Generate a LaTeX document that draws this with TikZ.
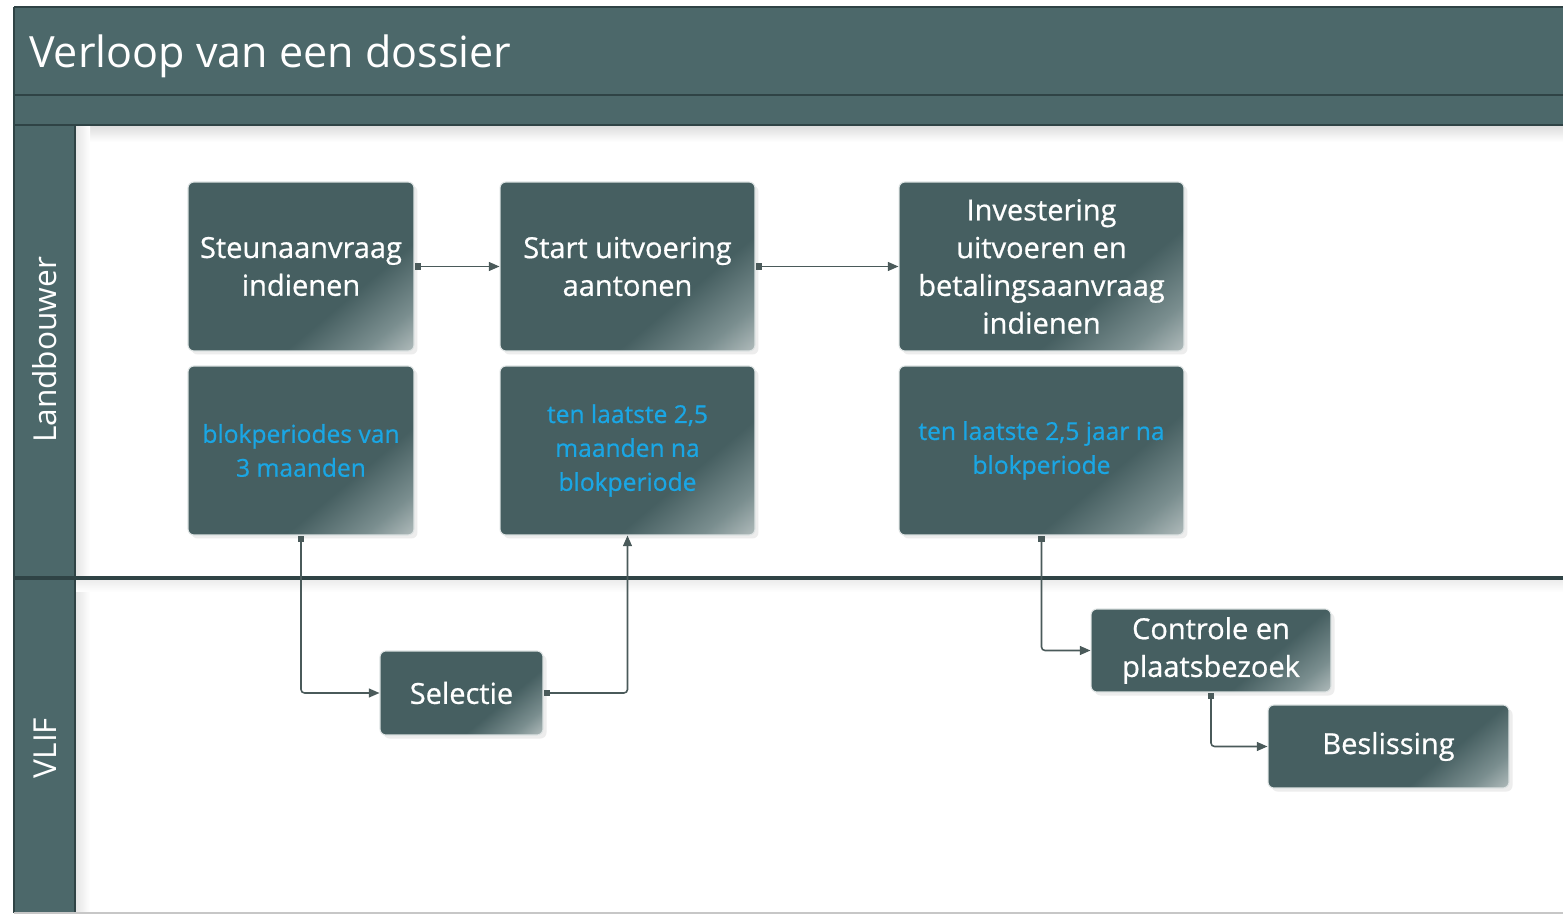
\documentclass[tikz,border=0pt]{standalone}
\usepackage{fontspec}
\setmainfont{Open Sans}
\newfontfamily\boxfont[FakeBold=0.7]{Open Sans}
\usetikzlibrary{arrows.meta,shadows}
\definecolor{teal1}{HTML}{4C686A}
\definecolor{darkln}{HTML}{2F4345}
\definecolor{boxD}{HTML}{465F61}
\definecolor{boxM}{HTML}{7A8E8F}
\definecolor{boxL}{HTML}{C2CACA}
\definecolor{blueT}{HTML}{1AA6E4}
\definecolor{connc}{HTML}{4A5A5A}
\definecolor{rim}{HTML}{DCE2E2}
\pgfdeclarehorizontalshading{boxgrad}{100bp}{color(0bp)=(boxD); color(64bp)=(boxD); color(77bp)=(boxM); color(88bp)=(boxL); color(100bp)=(boxL)}
\begin{document}
\begin{tikzpicture}[x=0.02cm,y=-0.02cm,
  task/.style={shade, shading=boxgrad, shading angle=-50, rounded corners=3.4pt,
    draw=rim, line width=0.6pt, text=white, align=center, inner sep=0pt,
    font=\boxfont\fontsize{16.5}{21.5}\selectfont,
    drop shadow={opacity=0.14, shadow xshift=2pt, shadow yshift=-2pt}},
  note/.style={task, text=blueT, font=\boxfont\fontsize{14}{19.3}\selectfont},
  bigbox/.style={minimum height=3.38cm},
  flow/.style={draw=connc, line width=0.9pt, rounded corners=2pt,
    arrows={Square[length=3.5pt,width=3.5pt]-Triangle[length=6pt,width=5pt]}},
  lane/.style={rotate=90, text=white, font=\fontsize{18}{20}\selectfont}
]
\useasboundingbox (0,0) rectangle (1563,915);
\fill[white] (0,0) rectangle (1563,915);
% header and lane bar
\fill[teal1] (14,7) rectangle (1563,125);
\fill[teal1] (14,125) rectangle (75,913);
\shade[top color=black!13, bottom color=white] (76,126) rectangle (1563,142);
\shade[left color=black!10, right color=white] (76,126) rectangle (90,913);
\shade[top color=black!8, bottom color=white] (76,579) rectangle (1563,592);
\draw[darkln, line width=1.2pt] (14,7) -- (1563,7);
\draw[darkln, line width=1.5pt] (14,95) -- (1563,95);
\draw[darkln, line width=1.5pt] (14,125) -- (1563,125);
\draw[darkln, line width=1.8pt] (14,578) -- (1563,578);
\draw[darkln, line width=1pt] (14,7) -- (14,913);
\draw[darkln, line width=1pt] (75,125) -- (75,913);
\draw[black!22, line width=0.8pt] (14,913) -- (1563,913);

\node[anchor=base west, text=white, font=\fontsize{24.5}{28}\selectfont] (title) at (23,68) {Verloop van een dossier};
\node[lane] (lane1) at (45,350) {Landbouwer};
\node[lane] (lane2) at (45,748) {VLIF};

% boxes
\node[task, bigbox, minimum width=4.52cm] (b1) at (301,266.5) {Steunaanvraag\\indienen};
\node[note, bigbox, minimum width=4.52cm] (b1n) at (301,450.5) {blokperiodes van\\3 maanden};
\node[task, bigbox, minimum width=5.10cm] (b2) at (627.5,266.5) {Start uitvoering\\aantonen};
\node[note, bigbox, minimum width=5.10cm] (b2n) at (627.5,450.5) {ten laatste 2,5\\maanden na\\blokperiode};
\node[task, bigbox, minimum width=5.70cm] (b3) at (1041.5,266.5) {Investering\\uitvoeren en\\betalingsaanvraag\\indienen};
\node[note, bigbox, minimum width=5.70cm] (b3n) at (1041.5,450.5) {ten laatste 2,5 jaar na\\blokperiode};
\node[task, minimum width=3.26cm, minimum height=1.68cm] (sel) at (461.5,693) {Selectie};
\node[task, minimum width=4.80cm, minimum height=1.66cm] (ctrl) at (1211,650.5) {Controle en\\plaatsbezoek};
\node[task, minimum width=4.82cm, minimum height=1.66cm] (besl) at (1388.5,746.5) {Beslissing};

% connectors
\draw[flow] (b1.east) -- (b2.west);
\draw[flow] (b2.east) -- (b3.west);
\draw[flow] (b1n.south) |- (sel.west);
\draw[flow] (sel.east) -| (b2n.south);
\draw[flow] (b3n.south) |- (ctrl.west);
\draw[flow] (ctrl.south) |- (besl.west);
\end{tikzpicture}
\end{document}
